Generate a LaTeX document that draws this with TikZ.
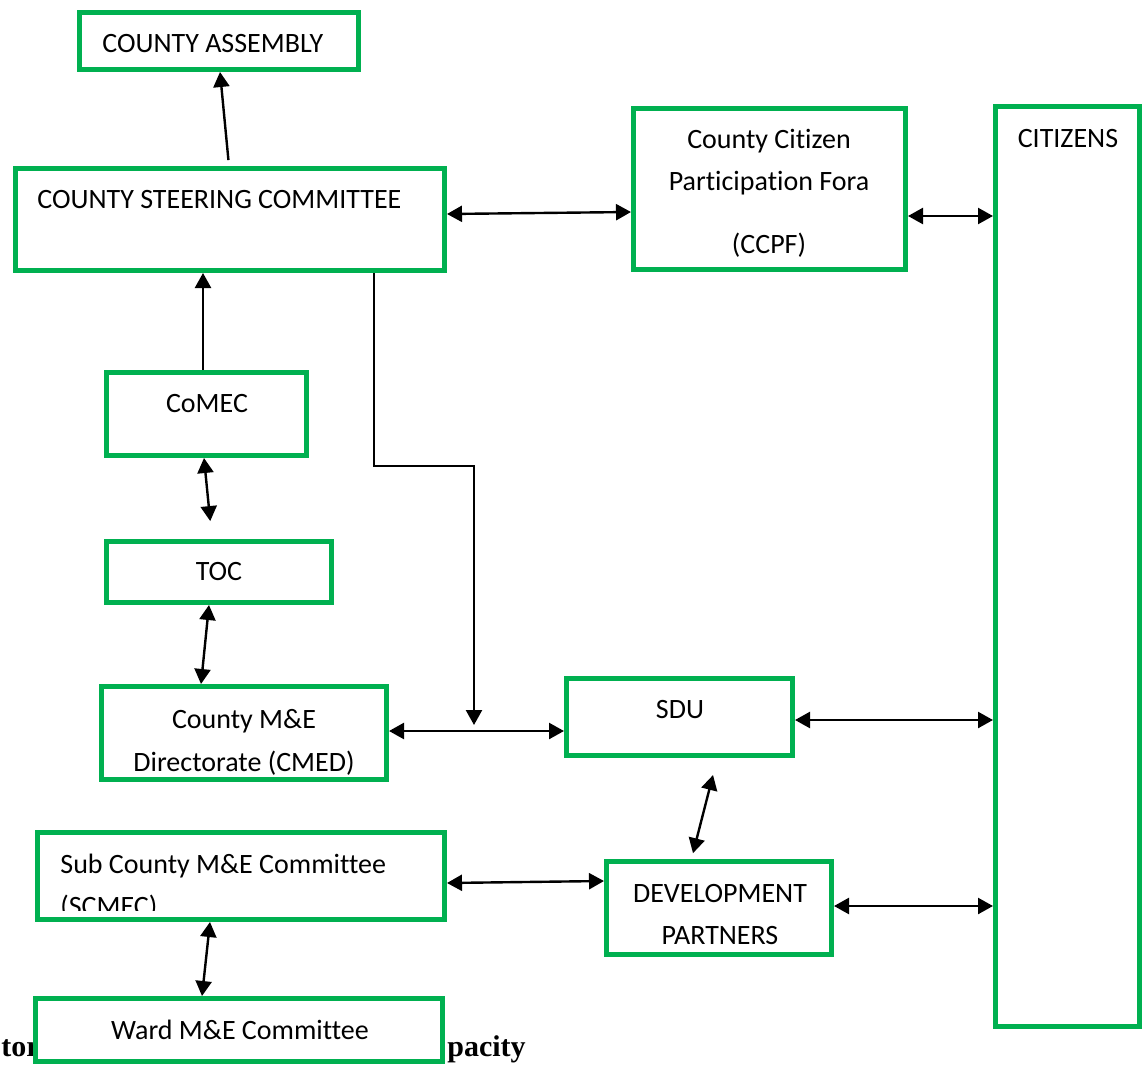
\documentclass[tikz,border=0pt]{standalone}
\usepackage{fontspec}
\setmainfont{Carlito}[Ligatures=NoCommon]
\newfontfamily\capfont{Liberation Serif}
\usepackage{tikz}
\usetikzlibrary{arrows.meta}
\definecolor{boxgreen}{RGB}{0,176,80}

\tikzset{
  box/.style={draw=boxgreen, line width=2.5pt, fill=white, inner sep=0pt},
  txt/.style={anchor=base, inner sep=0pt, font=\fontsize{14}{17}\selectfont},
  txtl/.style={txt, anchor=base west},
  captxt/.style={inner sep=0pt, font=\capfont\bfseries\fontsize{15}{18}\selectfont},
  dbl/.style={{Triangle[length=7.5pt,width=8pt]}-{Triangle[length=7.5pt,width=8pt]}, line width=1.2pt},
  sgl/.style={-{Triangle[length=7.5pt,width=8pt]}, line width=1.2pt}
}

\begin{document}
\begin{tikzpicture}[x=0.5pt, y=-0.5pt]
            \path[fill=white, use as bounding box] (0,0) rectangle (1142,1066);

            \draw (1,1056) node[captxt, anchor=base west]                 (capl) {tor};
            \draw (447,1056) node[captxt, anchor=base west]               (capr) {pacity};

            \draw (219,41) node[box, minimum width=139.5pt, minimum height=28.5pt]     (asm) {};
            \draw (230,219.5) node[box, minimum width=214.5pt, minimum height=51pt]    (csc) {};
            \draw (769.5,189) node[box, minimum width=136pt, minimum height=80.5pt]    (ccpf) {};
            \draw (1067.5,566.5) node[box, minimum width=72pt, minimum height=460pt]   (cit) {};
            \draw (206.5,414) node[box, minimum width=100pt, minimum height=41.5pt]    (comec) {};
            \draw (219,572) node[box, minimum width=112.5pt, minimum height=30.5pt]    (toc) {};
            \draw (244,733) node[box, minimum width=142.5pt, minimum height=46.5pt]    (cmed) {};
            \draw (679.5,717) node[box, minimum width=113pt, minimum height=38.5pt]    (sdu) {};
            \draw (241,876) node[box, minimum width=203.5pt, minimum height=43.5pt]    (scmec) {};
            \draw (719,908) node[box, minimum width=112.5pt, minimum height=46.5pt]    (dp) {};
            \draw (239,1030) node[box, minimum width=203.5pt, minimum height=31.5pt]   (ward) {};

            \draw (102,52) node[txtl]          (asm-t) {COUNTY ASSEMBLY};
            \draw (37,208) node[txtl]          (csc-t) {COUNTY STEERING COMMITTEE};
            \draw (769,148) node[txt]          (ccpf-t1) {County Citizen};
            \draw (769,190) node[txt]          (ccpf-t2) {Participation Fora};
            \draw (769,253) node[txt]          (ccpf-t3) {(CCPF)};
            \draw (1068,147) node[txt]         (cit-t) {CITIZENS};
            \draw (207,412) node[txt]          (comec-t) {CoMEC};
            \draw (219,580) node[txt]          (toc-t) {TOC};
            \draw (244,728) node[txt]          (cmed-t1) {County M\&E};
            \draw (244,771) node[txt]          (cmed-t2) {Directorate (CMED)};
            \draw (680,718) node[txt]          (sdu-t) {SDU};
            \draw (60,873) node[txtl]          (scmec-t1) {Sub County M\&E Committee};
            \begin{scope}
            \clip (35,830) rectangle (447,910);
            \draw (60,915) node[txtl]          (scmec-t2) {(SCMEC)};
            \end{scope}
            \draw (720,902) node[txt]          (dp-t1) {DEVELOPMENT};
            \draw (720,944) node[txt]          (dp-t2) {PARTNERS};
            \draw (240,1039) node[txt]         (ward-t) {Ward M\&E Committee};

            \coordinate (drop) at (474,725);
            \draw[sgl, shorten <=3pt] (csc.north -| 229,0) -- (asm.south -| 220,0);
            \draw[dbl] (csc.east |- 0,214) -- (ccpf.west |- 0,212);
            \draw[dbl] (ccpf.east |- 0,216) -- (cit.west |- 0,216);
            \draw[sgl] (comec.north -| 203,0) -- (csc.south -| 203,0);
            \draw[dbl, shorten >=9pt] (comec.south -| 204,0) -- (toc.north -| 212,0);
            \draw[dbl] (toc.south -| 209,0) -- (cmed.north -| 201,0);
            \draw[sgl] (csc.south -| 374,0) |- (drop |- 0,466) -- (drop);
            \draw[dbl] (cmed.east |- 0,731) -- (sdu.west |- 0,731);
            \draw[dbl] (sdu.east |- 0,720) -- (cit.west |- 0,720);
            \draw[dbl, shorten <=8.8pt, shorten >=3pt] (sdu.south -| 717.4,0) -- (dp.north -| 691.5,0);
            \draw[dbl] (scmec.east |- 0,883) -- (dp.west |- 0,881);
            \draw[dbl] (dp.east |- 0,906) -- (cit.west |- 0,906);
            \draw[dbl] (scmec.south -| 210,0) -- (ward.north -| 202,0);

\end{tikzpicture}
\end{document}
